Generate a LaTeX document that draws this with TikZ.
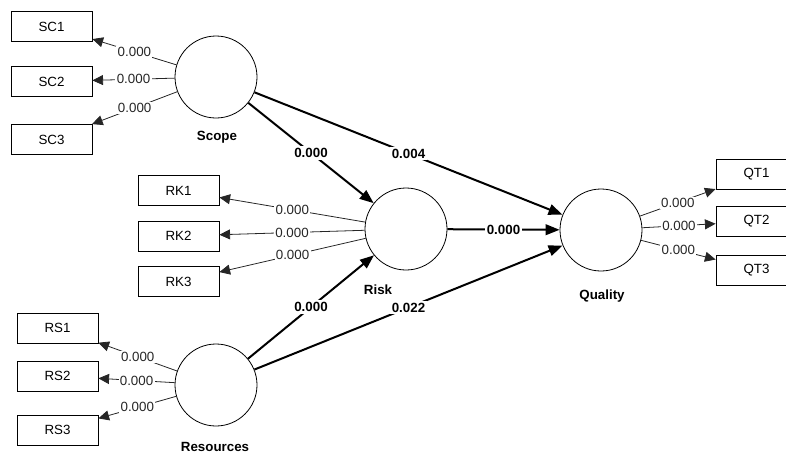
\documentclass[tikz,border=0pt]{standalone}
\usepackage{fontspec}
\setmainfont{Liberation Sans}
\usetikzlibrary{arrows.meta,positioning}

\begin{document}
\begin{tikzpicture}[
          x=0.75pt, y=-0.75pt,
          font=\fontsize{10}{12}\selectfont,
          ind/.style    = {draw, line width=0.6pt, minimum width=60.75pt, minimum height=22.5pt, inner sep=0pt},
          lat/.style    = {draw, circle, line width=0.6pt, minimum size=61.5pt, inner sep=0pt},
          latname/.style = {font=\fontsize{10}{12}\selectfont\bfseries},
          load/.style   = {line width=0.6pt, black!85, -{Triangle[length=8pt,width=7.5pt]}},
          strpath/.style = {line width=1.5pt, -{Triangle[length=10.5pt,width=8pt]}},
          lval/.style   = {midway, fill=white, inner sep=1pt},
          pval/.style   = {midway, fill=white, inner sep=1.5pt, font=\fontsize{10}{12}\selectfont\bfseries}
        ]

        \useasboundingbox (0,0) rectangle (786,455);
        \clip (0,0) rectangle (786,455);

        % --- latent variables
        \node[lat] (Scope)     at (216,77)  {};
        \node[lat] (Risk)      at (406,229) {};
        \node[lat] (Quality)   at (601,230) {};
        \node[lat] (Resources) at (216,385) {};

        \node[latname] (ScopeL)     at (217,137) {Scope};
        \node[latname] (RiskL)      at (378,290) {Risk};
        \node[latname] (QualityL)   at (602,296) {Quality};
        \node[latname] (ResourcesL) at (215,447) {Resources};

        % --- indicators
        \node[ind] (SC1) at (51.5,26.5)  {SC1};
        \node[ind] (SC2) at (51.5,81.5)  {SC2};
        \node[ind] (SC3) at (51.5,139.5) {SC3};
        \node[ind] (RK1) at (178.5,190.5) {RK1};
        \node[ind] (RK2) at (178.5,236)   {RK2};
        \node[ind] (RK3) at (178.5,281.5) {RK3};
        \node[ind] (RS1) at (57.5,328) {RS1};
        \node[ind] (RS2) at (57.5,376) {RS2};
        \node[ind] (RS3) at (57.5,430) {RS3};
        \node[ind] (QT1) at (756.5,174.5) {QT1};
        \node[ind] (QT2) at (756.5,221.5) {QT2};
        \node[ind] (QT3) at (756.5,270)   {QT3};

        % --- outer loadings
        \foreach \lv/\pre in {Scope/SC, Risk/RK, Resources/RS, Quality/QT}
          \foreach \i in {1,2,3}
            \draw[load] (\lv) -- (\pre\i) node[lval] {0.000};

        % --- structural paths
        \draw[strpath] (Scope)     -- (Risk)    node[pval] {0.000};
        \draw[strpath] (Scope)     -- (Quality) node[pval] {0.004};
        \draw[strpath] (Risk)      -- (Quality) node[pval] {0.000};
        \draw[strpath] (Resources) -- (Risk)    node[pval] {0.000};
        \draw[strpath] (Resources) -- (Quality) node[pval] {0.022};
\end{tikzpicture}
\end{document}
